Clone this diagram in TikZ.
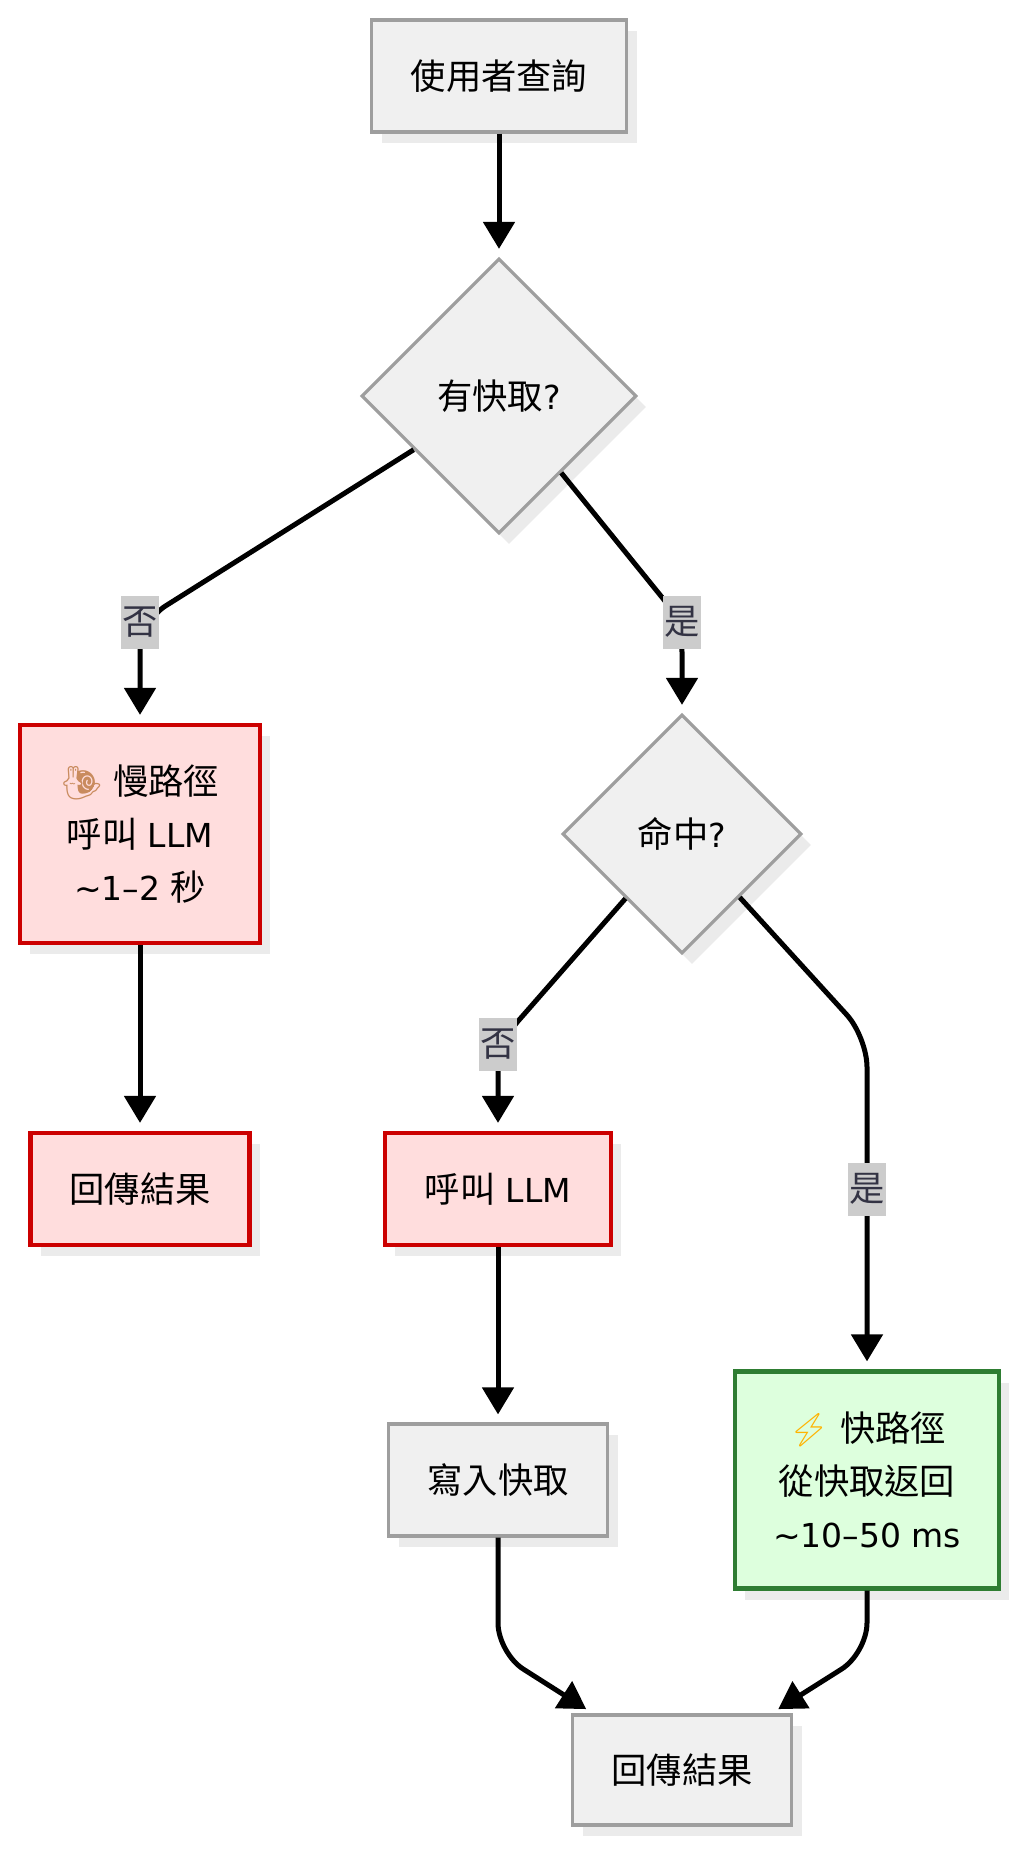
\documentclass[tikz,border=0pt]{standalone}
\usepackage{fontspec}
\setmainfont{DejaVu Sans}
\newfontfamily\cjk[Scale=1.07]{Noto Sans CJK TC}
\newfontfamily\emo{Noto Emoji}
\usetikzlibrary{shapes.geometric,arrows.meta,shadows}
\definecolor{gfill}{HTML}{F0F0F0}
\definecolor{gborder}{HTML}{9E9E9E}
\definecolor{shadowc}{HTML}{EBEBEB}
\definecolor{rfill}{HTML}{FFDDDD}
\definecolor{rborder}{HTML}{CC0000}
\definecolor{ffill}{HTML}{DDFFDD}
\definecolor{fborder}{HTML}{2E7D32}
\definecolor{lblfill}{HTML}{CCCCCC}
\definecolor{lbltext}{HTML}{333344}
\definecolor{snailc}{HTML}{C98B5E}
\definecolor{boltc}{HTML}{FFB300}
\newcommand\zhtext[1]{{\cjk #1}}
\begin{document}
\begin{tikzpicture}[x=1pt,y=-1pt,
  base/.style={draw, line width=3.2pt, inner sep=0pt, align=center,
    font=\fontsize{33}{53}\selectfont,
    drop shadow={shadow xshift=10pt, shadow yshift=-11pt, fill=shadowc, opacity=1}},
  gbox/.style={base, rectangle, fill=gfill, draw=gborder},
  rbox/.style={base, rectangle, fill=rfill, draw=rborder, line width=4.2pt},
  fbox/.style={base, rectangle, fill=ffill, draw=fborder, line width=4.2pt},
  dec/.style={base, diamond, aspect=1, fill=gfill, draw=gborder},
  lbl/.style={fill=lblfill, text=lbltext, font=\fontsize{33}{40}\selectfont\cjk,
    inner xsep=1.5pt, inner ysep=0pt, minimum height=53pt},
  arr/.style={line width=5pt, -{Triangle[length=27pt,width=31pt]},
    shorten >=8pt, rounded corners=30pt}
]
\fill[white] (0,0) rectangle (1024,1855);
\useasboundingbox (0,0) rectangle (1024,1855);

% nodes
\node[gbox, minimum width=255pt, minimum height=112pt] (q) at (499,76) {\zhtext{使用者查詢}};
\node[dec, minimum width=275pt, minimum height=275pt] (d1) at (499,396) {\zhtext{有快取}?};
\node[rbox, minimum width=240pt, minimum height=218pt] (slow) at (140,834)
  {{\emo\color{snailc}🐌} \zhtext{慢路徑}\\\zhtext{呼叫} LLM\\\textasciitilde1–2 \zhtext{秒}};
\node[dec, minimum width=239pt, minimum height=239pt] (d2) at (682,834) {\zhtext{命中}?};
\node[rbox, minimum width=219pt, minimum height=112pt] (ret1) at (140,1189) {\zhtext{回傳結果}};
\node[rbox, minimum width=226pt, minimum height=112pt] (llm) at (498,1189) {\zhtext{呼叫} LLM};
\node[fbox, minimum width=264pt, minimum height=217pt] (fast) at (867,1480)
  {{\emo\color{boltc}⚡} \zhtext{快路徑}\\\zhtext{從快取返回}\\\textasciitilde10–50 ms};
\node[gbox, minimum width=219pt, minimum height=112pt] (write) at (498,1480) {\zhtext{寫入快取}};
\node[gbox, minimum width=219pt, minimum height=110pt] (ret2) at (682,1770) {\zhtext{回傳結果}};

% bend points
\coordinate (c1) at (140,622);
\coordinate (c2) at (682,622);
\coordinate (c3) at (498,1044);
\coordinate (c4) at (867,1037);
\coordinate (c5) at (498,1653);
\coordinate (c6) at (867,1653);

% edges
\draw[arr] (q) -- (d1);
\draw[arr] (d1) -- (c1) -- (slow);
\draw[arr] (d1) -- (c2) -- (d2);
\draw[arr] (slow) -- (ret1);
\draw[arr] (d2) -- (c3) -- (llm);
\draw[arr] (d2) -- (c4) -- (fast);
\draw[arr] (llm) -- (write);
\draw[arr] (write) -- (c5) -- (ret2);
\draw[arr] (fast) -- (c6) -- (ret2);

% edge labels
\node[lbl] (l1) at (c1) {否};
\node[lbl] (l2) at (c2) {是};
\node[lbl] (l3) at (c3) {否};
\node[lbl] (l4) at (867,1189) {是};
\end{tikzpicture}
\end{document}
